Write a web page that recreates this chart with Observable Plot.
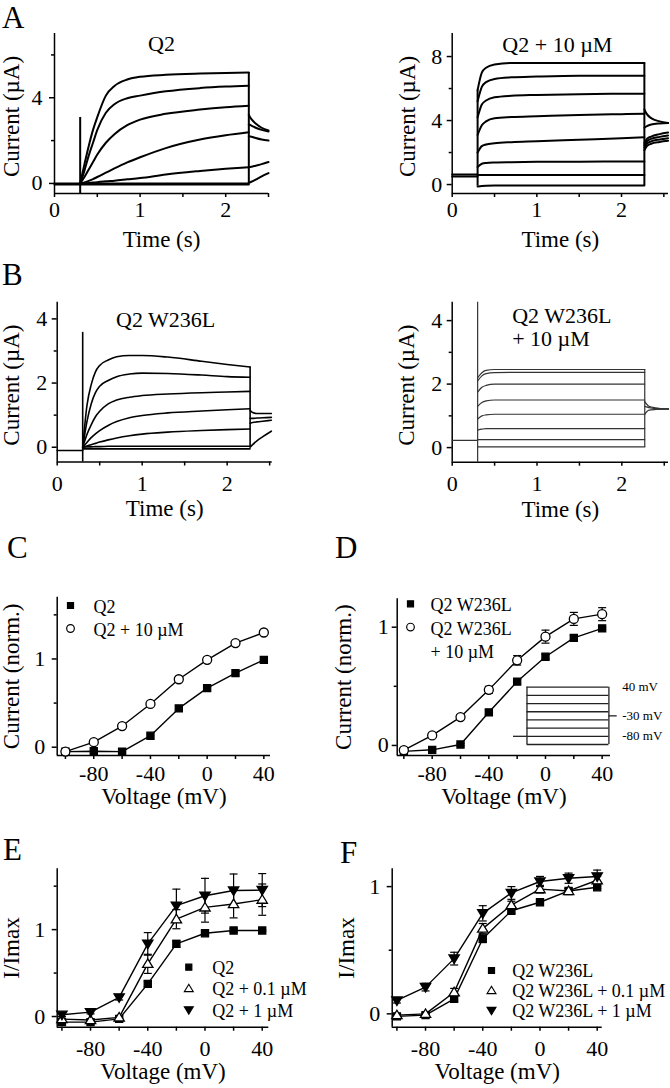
<!DOCTYPE html>
<html><head><meta charset="utf-8">
<script src="https://cdn.jsdelivr.net/npm/d3@7"></script>
<script src="https://cdn.jsdelivr.net/npm/@observablehq/plot@0.6"></script>
<style>
html,body{margin:0;padding:0;background:#fff;}
#fig{position:relative;width:670px;height:1088px;overflow:hidden;font-family:"Liberation Serif",serif;color:#000;}
.letter{position:absolute;font-size:31px;line-height:36px;font-family:"Liberation Serif",serif;}
</style></head><body><div id="fig"></div>
<script>
// ---------------- DATA ----------------
// Panel A (Q2) current traces, µA, sampled at tA (s)
const tA = [0.3, 0.35, 0.4, 0.45, 0.5, 0.6, 0.7, 0.85, 1.0, 1.3, 1.7, 2.0, 2.27];
const q2Traces = [
  [0, 0.9, 1.75, 2.5, 3.1, 4.1, 4.55, 4.85, 4.98, 5.07, 5.13, 5.16, 5.18],
  [0, 0.6, 1.3, 1.9, 2.5, 3.3, 3.7, 3.98, 4.1, 4.3, 4.45, 4.52, 4.56],
  [0, 0.3, 0.65, 1.0, 1.35, 1.9, 2.3, 2.72, 2.98, 3.25, 3.45, 3.56, 3.63],
  [0, 0.05, 0.12, 0.2, 0.3, 0.5, 0.7, 0.98, 1.22, 1.65, 2.05, 2.25, 2.39],
  [0, 0, 0.02, 0.04, 0.06, 0.1, 0.13, 0.19, 0.25, 0.42, 0.58, 0.68, 0.76],
  [0, 0, 0, 0, 0, 0, 0, 0, 0, 0, 0, 0, 0],
  [-0.05, -0.05, -0.05, -0.05, -0.05, -0.05, -0.05, -0.05, -0.05, -0.05, -0.05, -0.05, -0.05]
];
const q2Pulse = [0, 0.3, 2.27];           // record start, step on, step off (s)
const q2Hold = [-0.05, 0];
const q2TailT = [2.27, 2.3, 2.35, 2.42, 2.5];
const q2Tails = [
  [3.2, 3.0, 2.8, 2.6, 2.47],
  [2.75, 2.7, 2.6, 2.5, 2.42],
  [2.2, 2.18, 2.12, 2.05, 2.0],
  [0.76, 0.78, 0.83, 0.9, 1.0],
  [0.03, 0.08, 0.18, 0.33, 0.48]
];
const q2Verticals = [[0.3, -0.47, 3.08], [2.27, 0, 5.18]];

// Panel A right (Q2 + 10 µM)
const tB = [0.3, 0.35, 0.4, 0.5, 0.7, 1.0, 1.5, 2.0, 2.27];
const q2DrugTraces = [
  [5.9, 7.0, 7.3, 7.5, 7.6, 7.6, 7.6, 7.6, 7.6],
  [5.2, 6.1, 6.4, 6.6, 6.7, 6.75, 6.8, 6.8, 6.8],
  [4.2, 5.0, 5.25, 5.45, 5.55, 5.6, 5.65, 5.67, 5.67],
  [3.1, 3.7, 3.95, 4.15, 4.22, 4.27, 4.35, 4.4, 4.42],
  [2.0, 2.4, 2.5, 2.58, 2.65, 2.7, 2.8, 2.9, 2.96],
  [1.1, 1.3, 1.35, 1.38, 1.4, 1.42, 1.43, 1.44, 1.44],
  [0.6, 0.6, 0.6, 0.6, 0.6, 0.6, 0.6, 0.6, 0.6],
  [-0.12, -0.09, -0.07, -0.06, -0.06, -0.06, -0.06, -0.06, -0.06]
];
const q2DrugHold = [0.62, 0.5];
const q2DrugTailT = [2.27, 2.3, 2.35, 2.45, 2.55];
const q2DrugTails = [
  [4.7, 4.4, 4.15, 3.95, 3.85],
  [3.55, 3.65, 3.75, 3.82, 3.85],
  [2.6, 2.85, 3.0, 3.15, 3.25],
  [2.45, 2.7, 2.85, 2.98, 3.07],
  [2.3, 2.55, 2.7, 2.82, 2.9],
  [2.15, 2.4, 2.55, 2.66, 2.73]
];
const q2DrugVerticals = [[0.3, -0.1, 5.9], [2.27, -0.06, 7.6]];

// Panel B left (Q2 W236L)
const w236lTraces = [
  [0, 1.3, 1.95, 2.35, 2.55, 2.72, 2.82, 2.86, 2.86, 2.81, 2.68, 2.58, 2.5],
  [0, 0.8, 1.35, 1.7, 1.9, 2.08, 2.2, 2.28, 2.31, 2.3, 2.25, 2.2, 2.18],
  [0, 0.4, 0.7, 0.95, 1.12, 1.35, 1.47, 1.56, 1.61, 1.66, 1.7, 1.72, 1.74],
  [0, 0.15, 0.3, 0.42, 0.52, 0.68, 0.8, 0.92, 0.99, 1.07, 1.13, 1.17, 1.2],
  [0, 0.04, 0.08, 0.12, 0.16, 0.23, 0.29, 0.36, 0.41, 0.47, 0.52, 0.55, 0.57],
  [0, 0.01, 0.01, 0.02, 0.02, 0.03, 0.03, 0.03, 0.03, 0.03, 0.03, 0.03, 0.03],
  [-0.05, -0.05, -0.05, -0.05, -0.05, -0.05, -0.05, -0.05, -0.05, -0.05, -0.05, -0.05, -0.05]
];
const w236lHold = [-0.1];
const w236lTailT = [2.27, 2.3, 2.35, 2.42, 2.52];
const w236lTails = [
  [1.15, 1.08, 1.05, 1.05, 1.05],
  [0.9, 0.9, 0.91, 0.92, 0.93],
  [0.75, 0.77, 0.79, 0.81, 0.84],
  [0.0, 0.08, 0.2, 0.33, 0.5]
];
const w236lVerticals = [[0.3, -0.46, 3.58], [2.27, 0, 2.5]];

// Panel B right (Q2 W236L + 10 µM)
const w236lDrugTraces = [
  [2.2, 2.36, 2.43, 2.46, 2.46, 2.46, 2.46, 2.46, 2.46],
  [2.1, 2.26, 2.33, 2.36, 2.37, 2.37, 2.37, 2.37, 2.37],
  [1.75, 1.9, 1.96, 2.0, 2.0, 2.0, 2.0, 2.0, 2.0],
  [1.3, 1.42, 1.47, 1.5, 1.5, 1.5, 1.5, 1.5, 1.5],
  [0.9, 1.0, 1.03, 1.05, 1.05, 1.05, 1.05, 1.05, 1.05],
  [0.55, 0.58, 0.6, 0.6, 0.6, 0.6, 0.6, 0.6, 0.6],
  [0.25, 0.25, 0.25, 0.25, 0.25, 0.25, 0.25, 0.25, 0.25],
  [0.02, 0.02, 0.02, 0.02, 0.02, 0.02, 0.02, 0.02, 0.02]
];
const w236lDrugHold = [0.23];
const w236lDrugTailT = [2.27, 2.32, 2.4, 2.5, 2.55];
const w236lDrugTails = [
  [1.45, 1.3, 1.25, 1.22, 1.22],
  [1.05, 1.18, 1.2, 1.21, 1.21],
  [1.3, 1.26, 1.23, 1.22, 1.22]
];
const w236lDrugVerticals = [[0.3, -0.46, 4.58], [2.27, 0, 2.46]];

// I–V data (mV)
const voltages = [-100, -80, -60, -40, -20, 0, 20, 40];
// C
const q2Norm = [-0.05, -0.045, -0.05, 0.13, 0.44, 0.67, 0.84, 0.99];
const q2DrugNorm = [-0.05, 0.057, 0.24, 0.49, 0.77, 0.99, 1.18, 1.30];
// D
const w236lNorm = [-0.05, -0.037, 0.008, 0.28, 0.54, 0.75, 0.91, 0.99];
const w236lNormErr = [0.01, 0.01, 0.01, 0.02, 0.02, 0.02, 0.02, 0.01];
const w236lDrugNorm = [-0.04, 0.085, 0.24, 0.47, 0.72, 0.92, 1.07, 1.11];
const w236lDrugNormErr = [0.01, 0.015, 0.02, 0.03, 0.04, 0.055, 0.055, 0.055];
// E
const q2Imax = [-0.065, -0.065, -0.027, 0.376, 0.836, 0.958, 0.99, 0.99];
const q2ImaxErr = [0.01, 0.01, 0.01, 0.03, 0.04, 0.02, 0.02, 0.01];
const q2Imax01 = [-0.03, -0.04, -0.01, 0.606, 1.12, 1.256, 1.295, 1.345];
const q2Imax01Err = [0.01, 0.01, 0.02, 0.11, 0.11, 0.17, 0.16, 0.18];
const q2Imax1 = [0.02, 0.05, 0.22, 0.836, 1.276, 1.39, 1.45, 1.455];
const q2Imax1Err = [0.02, 0.02, 0.03, 0.13, 0.19, 0.2, 0.19, 0.19];
// F
const w236lImax = [-0.02, -0.01, 0.118, 0.59, 0.81, 0.877, 0.966, 0.995];
const w236lImaxErr = [0.01, 0.01, 0.02, 0.03, 0.02, 0.02, 0.02, 0.01];
const w236lImax01 = [-0.01, 0.0, 0.17, 0.67, 0.855, 0.98, 0.966, 1.05];
const w236lImax01Err = [0.01, 0.01, 0.03, 0.04, 0.03, 0.03, 0.02, 0.03];
const w236lImax1 = [0.105, 0.21, 0.434, 0.79, 0.95, 1.04, 1.066, 1.08];
const w236lImax1Err = [0.02, 0.03, 0.05, 0.06, 0.05, 0.04, 0.04, 0.05];

// Voltage protocol (inset in D)
const protocolLevels = [-100, -80, -60, -40, -20, 0, 20, 40];
const protocolTimes = [0, 0.13, 0.92, 1];
const protocolHold = -80, protocolTail = -30;
const protocolLabels = [["40 mV", 40], ["-30 mV", -30], ["-80 mV", -80]];

// ---------------- RENDER ----------------
const fig = document.getElementById("fig");
const FONT = "Liberation Serif";
const TICK_FS = 22, LABEL_FS = 23, TITLE_FS = 22, LEGEND_FS = 18;

function makePlot({box, frame, x, y, marks, axes = true}) {
  const svg = Plot.plot({
    width: box[2] - box[0], height: box[3] - box[1],
    marginLeft: frame[0] - box[0], marginRight: box[2] - frame[1],
    marginTop: frame[2] - box[1], marginBottom: box[3] - frame[3],
    x: axes ? {domain: x} : {domain: x, axis: null},
    y: axes ? {domain: y} : {domain: y, axis: null},
    style: {fontFamily: FONT, fontSize: TICK_FS + "px", color: "#000", background: "transparent", overflow: "visible"},
    marks
  });
  svg.style.position = "absolute";
  svg.style.left = box[0] + "px";
  svg.style.top = box[1] + "px";
  svg.style.maxWidth = "none";
  fig.appendChild(svg);
}

function frameAxes(o) {
  const sw = 1.5;
  return [
    Plot.ruleX([o.x[0]], {strokeWidth: sw}),
    Plot.ruleY([o.y[0]], {strokeWidth: sw}),
    Plot.axisY(o.yMajor, {tickSize: 5, tickPadding: o.yPad, tickFormat: d => String(d), label: null, strokeWidth: sw}),
    Plot.axisY(o.yMinor, {tickSize: 3, tickFormat: () => "", label: null, strokeWidth: sw}),
    Plot.axisX(o.xMajor, {tickSize: 4, tickPadding: o.xPad, tickFormat: d => String(d), label: null, strokeWidth: sw}),
    Plot.axisX(o.xMinor, {tickSize: 4, tickFormat: () => "", label: null, strokeWidth: sw}),
    Plot.text([o.xLabel], {text: d => d, frameAnchor: "bottom", dy: o.xLabelDy, textAnchor: "middle", lineAnchor: "middle", fontSize: LABEL_FS}),
    Plot.text([o.yLabel], {text: d => d, frameAnchor: "left", dx: o.yLabelDx, dy: o.yLabelDy || 0, rotate: -90, textAnchor: "middle", lineAnchor: "middle", fontSize: LABEL_FS})
  ];
}

function traceMarks({times, traces, pulse, holds, tailTimes, tails, verticals, stroke = "black", sw = 2}) {
  const main = traces.flatMap((vals, k) => times.map((t, i) => ({t, I: vals[i], k})));
  const hold = holds.flatMap((lvl, k) => [{t: pulse[0], I: lvl, k}, {t: pulse[1], I: lvl, k}]);
  const tail = tails.flatMap((vals, k) => tailTimes.map((t, i) => ({t, I: vals[i], k})));
  const vert = verticals.map(([t, lo, hi]) => ({t, lo, hi}));
  return [
    Plot.line(hold, {x: "t", y: "I", z: "k", stroke, strokeWidth: sw}),
    Plot.line(main, {x: "t", y: "I", z: "k", curve: "monotone-x", stroke, strokeWidth: sw}),
    Plot.line(tail, {x: "t", y: "I", z: "k", curve: "monotone-x", stroke, strokeWidth: sw}),
    Plot.ruleX(vert, {x: "t", y1: "lo", y2: "hi", stroke, strokeWidth: sw})
  ];
}

const capSymbol = {draw(ctx) { ctx.moveTo(-4, 0); ctx.lineTo(4, 0); }};
const triDown = {draw(ctx, size) {
  const r = Math.sqrt(size / Math.PI);
  ctx.moveTo(-r * 1.15, -r * 0.8); ctx.lineTo(r * 1.15, -r * 0.8); ctx.lineTo(0, r * 1.1); ctx.closePath();
}};
const triUp = {draw(ctx, size) {
  const r = Math.sqrt(size / Math.PI);
  ctx.moveTo(-r * 1.15, r * 0.8); ctx.lineTo(r * 1.15, r * 0.8); ctx.lineTo(0, -r * 1.1); ctx.closePath();
}};

function ivMarks(series) {
  const rowsOf = s => voltages.map((v, i) => ({v, m: s.values[i], e: s.err ? s.err[i] : 0}));
  const out = [];
  for (const s of series) out.push(Plot.line(rowsOf(s), {x: "v", y: "m", stroke: "black", strokeWidth: 1.4}));
  for (const s of series) if (s.err) {
    const r = rowsOf(s);
    out.push(Plot.ruleX(r, {x: "v", y1: d => d.m - d.e, y2: d => d.m + d.e, stroke: "black", strokeWidth: 1.2}));
    out.push(Plot.dot(r, {x: "v", y: d => d.m + d.e, symbol: capSymbol, stroke: "black", strokeWidth: 1.2}));
    out.push(Plot.dot(r, {x: "v", y: d => d.m - d.e, symbol: capSymbol, stroke: "black", strokeWidth: 1.2}));
  }
  for (const s of series) out.push(Plot.dot(rowsOf(s), {x: "v", y: "m", symbol: s.symbol, r: s.r, fill: s.fill, stroke: "black", strokeWidth: 1.3}));
  return out;
}

function legendMarks(series, {dx, dy, step, textDx, fontSize = LEGEND_FS}) {
  const out = [];
  let line = 0;
  for (const s of series) {
    const n = s.name.split("\n").length;
    out.push(Plot.dot([s], {frameAnchor: "top-left", dx, dy: dy + line * step, symbol: s.symbol, r: s.r * 0.85, fill: s.fill, stroke: "black", strokeWidth: 1.2}));
    out.push(Plot.text([s], {text: d => d.name, frameAnchor: "top-left", dx: textDx, dy: dy + line * step + (n - 1) * step / 2,
      textAnchor: "start", lineAnchor: "middle", fontSize, lineHeight: step / fontSize}));
    line += n;
  }
  return out;
}

function titleMark(text, {dx = 0, dy, anchor = "top", textAnchor = "middle", lineHeight = 1.1}) {
  return Plot.text([text], {text: d => d, frameAnchor: anchor, dx, dy, textAnchor, lineAnchor: "middle", fontSize: TITLE_FS, lineHeight});
}

// Panel A left
{
  const x = [0, 2.5], y = [-0.47, 7.0];
  makePlot({box: [0, 0, 335, 258], frame: [54, 268, 33, 193], x, y, marks: [
    ...frameAxes({x, y, xMajor: [0, 1, 2], xMinor: [0.5, 1.5, 2.5], yMajor: [0, 4], yMinor: [2, 6], xPad: 4, yPad: 7,
      xLabel: "Time (s)", yLabel: "Current (µA)", xLabelDy: 46, yLabelDx: -43, yLabelDy: 3}),
    ...traceMarks({times: tA, traces: q2Traces, pulse: q2Pulse, holds: q2Hold, tailTimes: q2TailT, tails: q2Tails, verticals: q2Verticals, sw: 2}),
    titleMark("Q2", {dx: 0, dy: 9.5})
  ]});
}
// Panel A right
{
  const x = [0, 2.555], y = [-0.56, 9.44];
  makePlot({box: [335, 0, 670, 258], frame: [451.7, 668, 33, 193], x, y, marks: [
    ...frameAxes({x, y, xMajor: [0, 1, 2], xMinor: [0.5, 1.5, 2.5], yMajor: [0, 4, 8], yMinor: [2, 6], xPad: 4, yPad: 5,
      xLabel: "Time (s)", yLabel: "Current (µA)", xLabelDy: 46, yLabelDx: -45, yLabelDy: 3}),
    ...traceMarks({times: tB, traces: q2DrugTraces, pulse: q2Pulse, holds: q2DrugHold, tailTimes: q2DrugTailT, tails: q2DrugTails, verticals: q2DrugVerticals, sw: 2}),
    titleMark("Q2 + 10 µM", {dx: -3, dy: 10.3})
  ]});
}
// Panel B left
{
  const x = [0, 2.53], y = [-0.46, 4.52];
  makePlot({box: [0, 258, 335, 525], frame: [56.7, 271.7, 301.7, 461.5], x, y, marks: [
    ...frameAxes({x, y, xMajor: [0, 1, 2], xMinor: [0.5, 1.5, 2.5], yMajor: [0, 2, 4], yMinor: [1, 3], xPad: 9, yPad: 5,
      xLabel: "Time (s)", yLabel: "Current (µA)", xLabelDy: 47, yLabelDx: -46, yLabelDy: 3}),
    ...traceMarks({times: tA, traces: w236lTraces, pulse: q2Pulse, holds: w236lHold, tailTimes: w236lTailT, tails: w236lTails, verticals: w236lVerticals, sw: 1.6}),
    titleMark("Q2 W236L", {dx: 1, dy: 17.3})
  ]});
}
// Panel B right
{
  const x = [0, 2.55], y = [-0.46, 4.58];
  makePlot({box: [335, 258, 670, 525], frame: [451.7, 668, 301.7, 461.7], x, y, marks: [
    ...frameAxes({x, y, xMajor: [0, 1, 2], xMinor: [0.5, 1.5, 2.5], yMajor: [0, 2, 4], yMinor: [1, 3], xPad: 9, yPad: 5,
      xLabel: "Time (s)", yLabel: "Current (µA)", xLabelDy: 47, yLabelDx: -46, yLabelDy: 3}),
    ...traceMarks({times: tB, traces: w236lDrugTraces, pulse: q2Pulse, holds: w236lDrugHold, tailTimes: w236lDrugTailT, tails: w236lDrugTails, verticals: w236lDrugVerticals, sw: 1.2, stroke: "#333"}),
    titleMark("Q2 W236L\n+ 10 µM", {anchor: "top-left", dx: 60, dy: 24.8, textAnchor: "start", lineHeight: 1.05})
  ]});
}
// Panel C
{
  const x = [-105.8, 44.7], y = [-0.094, 1.70];
  const series = [
    {name: "Q2", values: q2Norm, symbol: "square", r: 4, fill: "black"},
    {name: "Q2 + 10 µM", values: q2DrugNorm, symbol: "circle", r: 4.5, fill: "white"}
  ];
  makePlot({box: [0, 525, 335, 815], frame: [56.7, 270, 596.7, 755], x, y, marks: [
    ...frameAxes({x, y, xMajor: [-80, -40, 0, 40], xMinor: [-100, -60, -20, 20], yMajor: [0, 1], yMinor: [0.5, 1.5], xPad: 6, yPad: 7,
      xLabel: "Voltage (mV)", yLabel: "Current (norm.)", xLabelDy: 41, yLabelDx: -46}),
    ...ivMarks(series),
    ...legendMarks(series, {dx: 13.3, dy: 8.3, step: 23, textDx: 36.3})
  ]});
}
// Panel D
{
  const x = [-104.7, 45.9], y = [-0.085, 1.24];
  const series = [
    {name: "Q2 W236L", values: w236lNorm, err: w236lNormErr, symbol: "square", r: 4, fill: "black"},
    {name: "Q2 W236L\n+ 10 µM", values: w236lDrugNorm, err: w236lDrugNormErr, symbol: "circle", r: 4.5, fill: "white"}
  ];
  makePlot({box: [335, 525, 670, 815], frame: [396.7, 610, 598.3, 755], x, y, marks: [
    ...frameAxes({x, y, xMajor: [-80, -40, 0, 40], xMinor: [-100, -60, -20, 20], yMajor: [0, 1], yMinor: [0.5], xPad: 6, yPad: 3.5,
      xLabel: "Voltage (mV)", yLabel: "Current (norm.)", xLabelDy: 41, yLabelDx: -53.7}),
    ...ivMarks(series),
    ...legendMarks(series, {dx: 13.3, dy: 5, step: 23.3, textDx: 33.3})
  ]});
  // inset: voltage protocol
  const px = [protocolTimes[0], protocolTimes[3]], py = [-100, 40];
  const [t0, tOn, tOff, tEnd] = protocolTimes;
  makePlot({box: [505, 676, 670, 752], frame: [513, 616.7, 686.7, 744], x: px, y: py, axes: false, marks: [
    Plot.ruleY(protocolLevels, {x1: () => tOn, x2: () => tOff, stroke: "#222", strokeWidth: 1.3}),
    Plot.ruleX([tOn, tOff], {y1: () => protocolLevels[0], y2: () => protocolLevels[protocolLevels.length - 1], stroke: "#222", strokeWidth: 1.3}),
    Plot.ruleY([protocolHold], {x1: () => t0, x2: () => tOn, stroke: "#222", strokeWidth: 1.3}),
    Plot.ruleY([protocolTail], {x1: () => tOff, x2: () => tEnd, stroke: "#222", strokeWidth: 1.3}),
    Plot.text(protocolLabels, {y: d => d[1], text: d => d[0], frameAnchor: "right", dx: 5, textAnchor: "start", lineAnchor: "middle", fontSize: 13})
  ]});
}
// Panel E
{
  const x = [-103.3, 44.6], y = [-0.123, 1.70];
  const series = [
    {name: "Q2", values: q2Imax, err: q2ImaxErr, symbol: "square", r: 4, fill: "black"},
    {name: "Q2 + 0.1 µM", values: q2Imax01, err: q2Imax01Err, symbol: triUp, r: 4.5, fill: "white"},
    {name: "Q2 + 1 µM", values: q2Imax1, err: q2Imax1Err, symbol: triDown, r: 4.5, fill: "black"}
  ];
  makePlot({box: [0, 815, 335, 1088], frame: [56.7, 268.3, 868.3, 1026.7], x, y, marks: [
    ...frameAxes({x, y, xMajor: [-80, -40, 0, 40], xMinor: [-100, -60, -20, 20], yMajor: [0, 1], yMinor: [0.5, 1.5], xPad: 9, yPad: 7,
      xLabel: "Voltage (mV)", yLabel: "I/Imax", xLabelDy: 44, yLabelDx: -46}),
    ...ivMarks(series),
    ...legendMarks(series, {dx: 131.6, dy: 98.4, step: 21.3, textDx: 155})
  ]});
}
// Panel F
{
  const x = [-103.3, 43.5], y = [-0.105, 1.14];
  const series = [
    {name: "Q2 W236L", values: w236lImax, err: w236lImaxErr, symbol: "square", r: 4, fill: "black"},
    {name: "Q2 W236L + 0.1 µM", values: w236lImax01, err: w236lImax01Err, symbol: triUp, r: 4.5, fill: "white"},
    {name: "Q2 W236L + 1 µM", values: w236lImax1, err: w236lImax1Err, symbol: triDown, r: 4.5, fill: "black"}
  ];
  makePlot({box: [335, 815, 670, 1088], frame: [391.7, 601.7, 868.3, 1026.7], x, y, marks: [
    ...frameAxes({x, y, xMajor: [-80, -40, 0, 40], xMinor: [-100, -60, -20, 20], yMajor: [0, 1], yMinor: [0.5], xPad: 9, yPad: 7,
      xLabel: "Voltage (mV)", yLabel: "I/Imax", xLabelDy: 44, yLabelDx: -46}),
    ...ivMarks(series),
    ...legendMarks(series, {dx: 99.3, dy: 101.7, step: 20, textDx: 120})
  ]});
}

// Panel letters (font 31px, line-height 36px → baseline ≈ top + 29.6px)
const letters = [["A", 2, 29.8], ["B", 2, 287], ["C", 7, 560], ["D", 335, 560], ["E", 3, 862], ["F", 340, 865]];
for (const [t, x, base] of letters) {
  const d = document.createElement("div");
  d.className = "letter";
  d.textContent = t;
  d.style.left = x + "px";
  d.style.top = (base - 29.6) + "px";
  fig.appendChild(d);
}
</script></body></html>
